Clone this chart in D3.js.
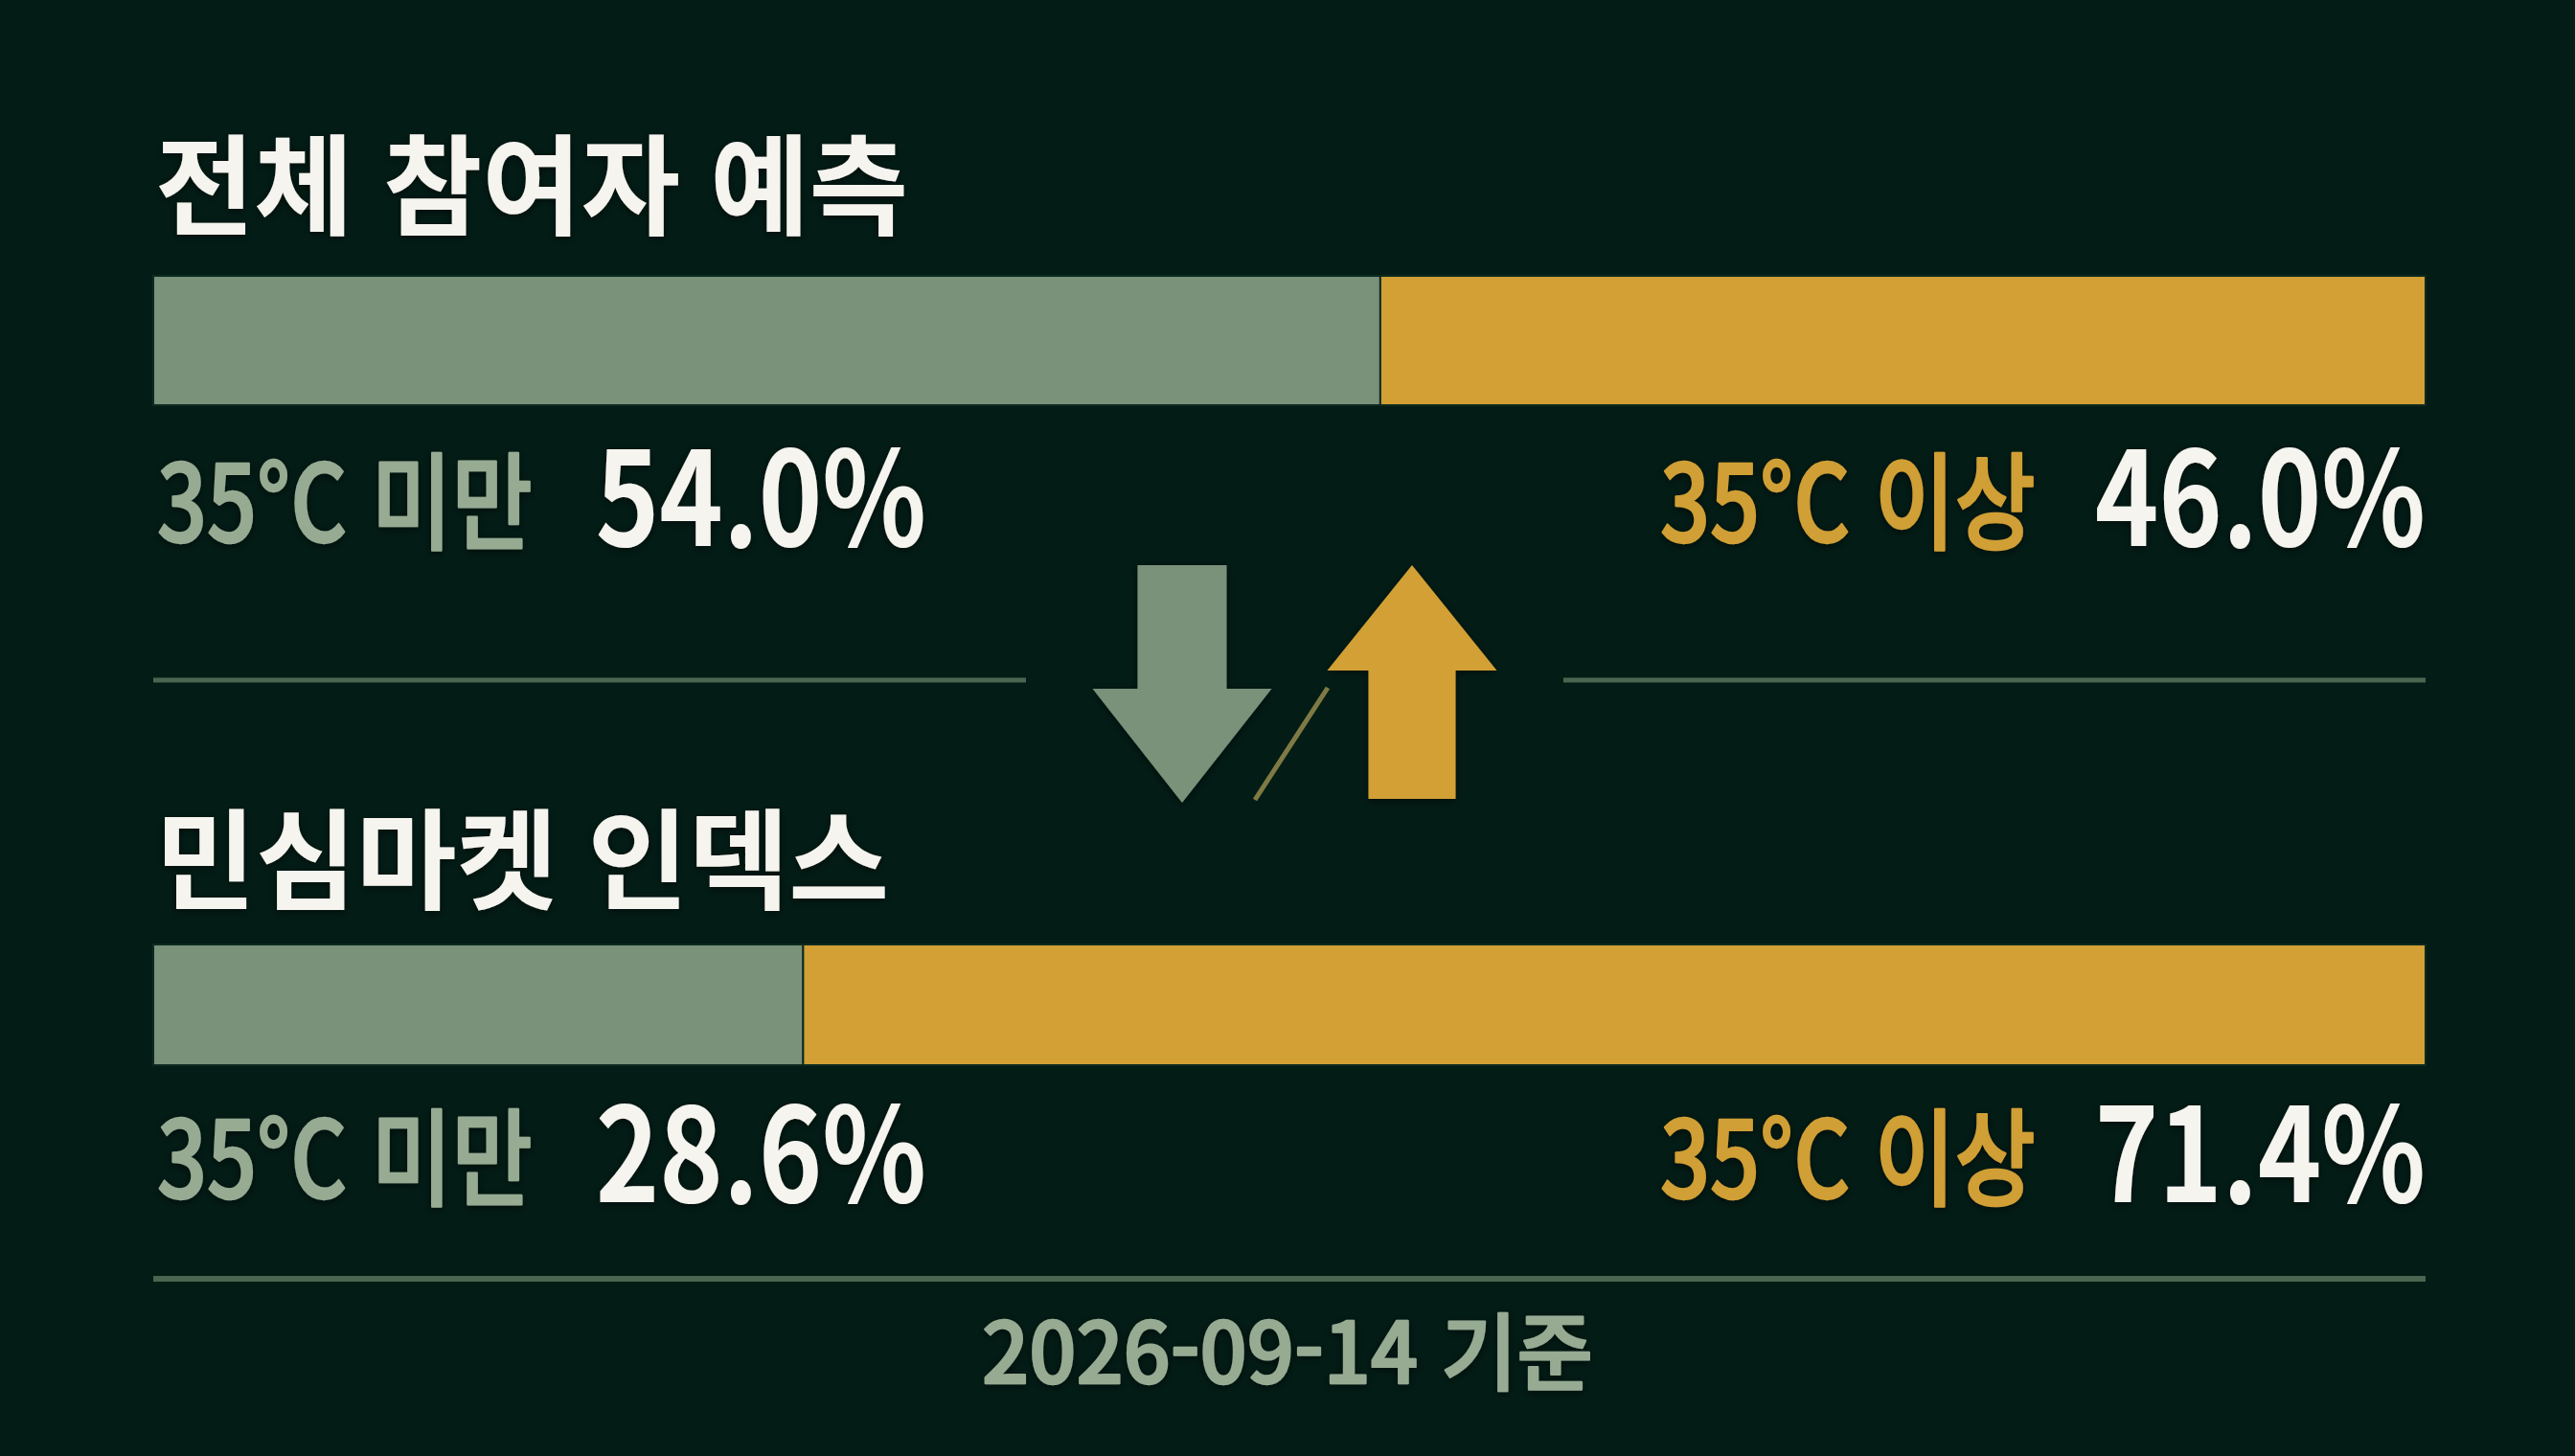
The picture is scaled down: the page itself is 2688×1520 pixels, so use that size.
<!DOCTYPE html>
<html lang="ko">
<head>
<meta charset="utf-8">
<script src="https://cdn.jsdelivr.net/npm/d3@7"></script>
<style>
  html, body { margin: 0; padding: 0; background: #031c16; }
  svg { display: block; }
  text { font-family: "Noto Sans CJK KR", "Noto Sans", sans-serif; }
</style>
</head>
<body>
<svg id="chart" width="2688" height="1520"></svg>
<script>
// data
const groups = ["전체 참여자 예측", "민심마켓 인덱스"];
const belowShare = [54.0, 28.6];
const aboveShare = [46.0, 71.4];
const catLabels = ["35°C 미만", "35°C 이상"];
const footLabel = "2026-09-14 기준";

const W = 2688, H = 1520;
const col = {
  bg: "#031c16",
  sage: "#7a917a",
  sageText: "#97ab93",
  gold: "#d2a034",
  goldText: "#d09f35",
  white: "#f6f4ef",
  rule: "#4a6550",
  slash: "#7f7a44"
};

const svg = d3.select("#chart").attr("viewBox", [0, 0, W, H]);

const defs = svg.append("defs");
const glow = defs.append("filter").attr("id", "shadow")
  .attr("x", "-10%").attr("y", "-20%").attr("width", "120%").attr("height", "140%");
glow.append("feDropShadow").attr("dx", 0).attr("dy", 2).attr("stdDeviation", 4)
  .attr("flood-color", "#000").attr("flood-opacity", 0.55);

svg.append("rect").attr("width", W).attr("height", H).attr("fill", col.bg);

const x = d3.scaleLinear().domain([0, 100]).range([160, 2532]);

// the reference face is narrower than Noto, so squeeze text horizontally
function squeeze(sel, k) {
  const w = sel.node().getComputedTextLength() * k;
  sel.attr("textLength", w).attr("lengthAdjust", "spacingAndGlyphs");
  return w;
}

// medium weight plus a hairline stroke reads as semibold
function semibold(sel, c) {
  return sel.attr("font-weight", 500).attr("fill", c)
    .attr("stroke", c).attr("stroke-width", 2.4).attr("stroke-linejoin", "round");
}

// one row per group
const rows = [
  {title: 236, barTop: 288, barH: 135, label: 565},
  {title: 940, barTop: 986, barH: 126, label: 1250}
];

groups.forEach((g, i) => {
  const r = rows[i];

  const t = svg.append("text")
    .attr("x", 162).attr("y", r.title)
    .attr("fill", col.white)
    .attr("font-size", 114).attr("font-weight", 700)
    .attr("filter", "url(#shadow)")
    .text(g);
  squeeze(t, i === 0 ? 0.985 : 1.0);

  const segs = [
    {v0: 0, v1: belowShare[i], c: col.sage},
    {v0: belowShare[i], v1: 100, c: col.gold}
  ];
  svg.append("g").selectAll("rect").data(segs).join("rect")
    .attr("x", d => x(d.v0))
    .attr("width", d => x(d.v1) - x(d.v0))
    .attr("y", r.barTop).attr("height", r.barH)
    .attr("fill", d => d.c)
    .attr("stroke", "#0d2a20").attr("stroke-width", 2);

  // left: label then value
  const l1 = svg.append("text")
    .attr("x", x(0) + 4).attr("y", r.label)
    .attr("font-size", 110)
    .attr("filter", "url(#shadow)")
    .text(catLabels[0]);
  semibold(l1, col.sageText);
  const lw = squeeze(l1, 0.83);
  const n1 = svg.append("text")
    .attr("x", x(0) + 4 + lw + 66).attr("y", r.label + 5)
    .attr("fill", col.white)
    .attr("font-size", 136).attr("font-weight", 700)
    .attr("filter", "url(#shadow)")
    .text(belowShare[i].toFixed(1) + "%");
  squeeze(n1, 0.83);

  // right: value flush with bar end, label before it
  const n2 = svg.append("text")
    .attr("x", x(100)).attr("y", r.label + 5)
    .attr("text-anchor", "end")
    .attr("fill", col.white)
    .attr("font-size", 136).attr("font-weight", 700)
    .attr("filter", "url(#shadow)")
    .text(aboveShare[i].toFixed(1) + "%");
  const nw = squeeze(n2, 0.83);
  const l2 = svg.append("text")
    .attr("x", x(100) - nw - 62).attr("y", r.label)
    .attr("text-anchor", "end")
    .attr("font-size", 110)
    .attr("filter", "url(#shadow)")
    .text(catLabels[1]);
  semibold(l2, col.goldText);
  squeeze(l2, 0.83);
});

// middle rules and arrows
svg.append("line").attr("x1", x(0)).attr("x2", 1071).attr("y1", 710).attr("y2", 710)
  .attr("stroke", col.rule).attr("stroke-width", 5);
svg.append("line").attr("x1", 1632).attr("x2", x(100)).attr("y1", 710).attr("y2", 710)
  .attr("stroke", col.rule).attr("stroke-width", 5);

function arrow(cx, tipY, baseY, endY, headW, shaftW) {
  const p = d3.path();
  p.moveTo(cx, tipY);
  p.lineTo(cx + headW / 2, baseY);
  p.lineTo(cx + shaftW / 2, baseY);
  p.lineTo(cx + shaftW / 2, endY);
  p.lineTo(cx - shaftW / 2, endY);
  p.lineTo(cx - shaftW / 2, baseY);
  p.lineTo(cx - headW / 2, baseY);
  p.closePath();
  return p.toString();
}

svg.append("path").attr("d", arrow(1234, 838, 719, 590, 187, 93))
  .attr("fill", col.sage).attr("filter", "url(#shadow)");
svg.append("path").attr("d", arrow(1474, 590, 700, 834, 177, 91))
  .attr("fill", col.gold).attr("filter", "url(#shadow)");
svg.append("line").attr("x1", 1310).attr("y1", 835).attr("x2", 1386).attr("y2", 718)
  .attr("stroke", col.slash).attr("stroke-width", 5);

// bottom rule and date
svg.append("line").attr("x1", x(0)).attr("x2", x(100)).attr("y1", 1335).attr("y2", 1335)
  .attr("stroke", col.rule).attr("stroke-width", 6);

const foot = svg.append("text")
  .attr("x", W / 2).attr("y", 1444)
  .attr("text-anchor", "middle")
  .attr("font-size", 88)
  .attr("filter", "url(#shadow)")
  .text(footLabel);
semibold(foot, col.sageText);
squeeze(foot, 0.98);
</script>
</body>
</html>
